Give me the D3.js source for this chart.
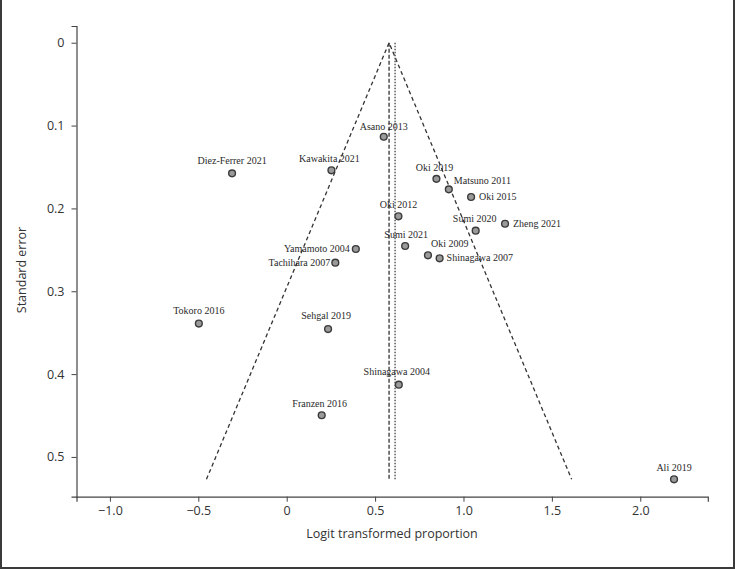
<!DOCTYPE html>
<html>
<head>
<meta charset="utf-8">
<script src="https://cdn.jsdelivr.net/npm/d3@7"></script>
<style>
  html, body { margin: 0; padding: 0; background: #fff; }
  svg { display: block; }
</style>
</head>
<body>
<svg id="chart" width="735" height="569"></svg>
<script>
// ---- data ----
const studies = ["Asano 2013","Diez-Ferrer 2021","Kawakita 2021","Oki 2019","Matsuno 2011","Oki 2015",
  "Oki 2012","Sumi 2020","Zheng 2021","Sumi 2021","Yamamoto 2004","Tachihara 2007","Oki 2009",
  "Shinagawa 2007","Tokoro 2016","Sehgal 2019","Shinagawa 2004","Franzen 2016","Ali 2019"];
const logitValues = [0.549,-0.309,0.253,0.847,0.917,1.043,0.632,1.069,1.235,0.670,0.391,0.275,0.799,
  0.865,-0.497,0.234,0.634,0.198,2.191];
const stdErrors = [0.1135,0.1577,0.154,0.1643,0.177,0.1862,0.2095,0.2269,0.2185,0.2454,0.249,0.2655,
  0.2566,0.2602,0.339,0.3456,0.4128,0.4497,0.527];
const fixedEffect = 0.579;
const randomEffect = 0.613;
const xTicks = [-1.0,-0.5,0,0.5,1.0,1.5,2.0];
const yTicks = [0,0.1,0.2,0.3,0.4,0.5];

// label placement (layout only): [anchor, dx, dy]
const labelPlace = {
  "Asano 2013":["middle",0,-7], "Diez-Ferrer 2021":["middle",0,-9], "Kawakita 2021":["middle",-2,-8],
  "Oki 2019":["middle",-2,-8], "Matsuno 2011":["start",5,-5], "Oki 2015":["start",8,3],
  "Oki 2012":["middle",0,-8], "Sumi 2020":["middle",-1,-9], "Zheng 2021":["start",8,3],
  "Sumi 2021":["middle",1,-8], "Yamamoto 2004":["end",-6,3], "Tachihara 2007":["end",-5,3],
  "Oki 2009":["start",3,-8], "Shinagawa 2007":["start",7,3], "Tokoro 2016":["middle",0,-10],
  "Sehgal 2019":["middle",-2,-10], "Shinagawa 2004":["middle",-2,-10], "Franzen 2016":["middle",-2,-8],
  "Ali 2019":["middle",0,-8]
};

const svg = d3.select("#chart");
const W = 735, H = 569;

// frame
svg.append("rect").attr("x",0).attr("y",0).attr("width",W).attr("height",H).attr("fill","#fff");
svg.append("path").attr("d",`M1,0 V${H-1} H${W-1} V0`)
  .attr("fill","none").attr("stroke","#3a3a3a").attr("stroke-width",2);

const x = d3.scaleLinear().domain([-1.189, 2.382]).range([76.5, 707.8]);
const y = d3.scaleLinear().domain([-0.0202, 0.548]).range([26, 496.7]);

const axisFont = "'Segoe UI','Open Sans','Noto Sans',sans-serif";

// x axis
const xAxis = svg.append("g").attr("transform",`translate(0,${y(0.548)})`)
  .call(d3.axisBottom(x).tickValues(xTicks).tickSize(5).tickPadding(4)
    .tickFormat(d => d === 0 ? "0" : d3.format(".1f")(d).replace("-","\u2212")));
xAxis.select(".domain").attr("stroke","#444").attr("stroke-width",1.2);
xAxis.selectAll(".tick line").attr("stroke","#444");
xAxis.selectAll("text").attr("font-family",axisFont).attr("font-size",12.5).attr("fill","#333");

// y axis
const yAxis = svg.append("g").attr("transform",`translate(${x(-1.189)},0)`)
  .call(d3.axisLeft(y).tickValues(yTicks).tickSize(5).tickPadding(7)
    .tickFormat(d => d === 0 ? "0" : d3.format(".1f")(d)));
yAxis.select(".domain").attr("stroke","#444").attr("stroke-width",1.2);
yAxis.selectAll(".tick line").attr("stroke","#444");
yAxis.selectAll("text").attr("font-family",axisFont).attr("font-size",12.5).attr("fill","#333");

// axis titles
svg.append("text").attr("x",392).attr("y",538).attr("text-anchor","middle")
  .attr("font-family",axisFont).attr("font-size",12.5).attr("fill","#333")
  .text("Logit transformed proportion");
svg.append("text").attr("transform",`translate(26,${270}) rotate(-90)`).attr("text-anchor","middle")
  .attr("font-family",axisFont).attr("font-size",12.5).attr("fill","#333")
  .text("Standard error");

// funnel
const seMax = d3.max(stdErrors);
const funnel = [[fixedEffect - 1.96*seMax, seMax],[fixedEffect,0],[fixedEffect + 1.96*seMax, seMax]];
svg.append("path")
  .attr("d", d3.line().x(d=>x(d[0])).y(d=>y(d[1]))(funnel))
  .attr("fill","none").attr("stroke","#333").attr("stroke-width",1.3).attr("stroke-dasharray","4,3");
svg.append("line").attr("x1",x(fixedEffect)).attr("x2",x(fixedEffect)).attr("y1",y(0)).attr("y2",y(seMax))
  .attr("stroke","#333").attr("stroke-width",1.3).attr("stroke-dasharray","4,2");
svg.append("line").attr("x1",x(randomEffect)).attr("x2",x(randomEffect)).attr("y1",y(0)).attr("y2",y(seMax))
  .attr("stroke","#333").attr("stroke-width",1.2).attr("stroke-dasharray","1.5,1.5");

// points
const pts = studies.map((s,i)=>({name:s, v:logitValues[i], se:stdErrors[i]}));
svg.append("g").selectAll("circle").data(pts).join("circle")
  .attr("cx",d=>x(d.v)).attr("cy",d=>y(d.se)).attr("r",3.4)
  .attr("fill","#9a9a9a").attr("stroke","#3a3a3a").attr("stroke-width",1.4);

svg.append("g").selectAll("text").data(pts).join("text")
  .attr("x",d=>x(d.v)+labelPlace[d.name][1])
  .attr("y",d=>y(d.se)+labelPlace[d.name][2])
  .attr("text-anchor",d=>labelPlace[d.name][0])
  .attr("font-family","'Liberation Serif','Times New Roman',serif")
  .attr("font-size",10).attr("fill","#2a2a2a")
  .text(d=>d.name);
</script>
</body>
</html>
